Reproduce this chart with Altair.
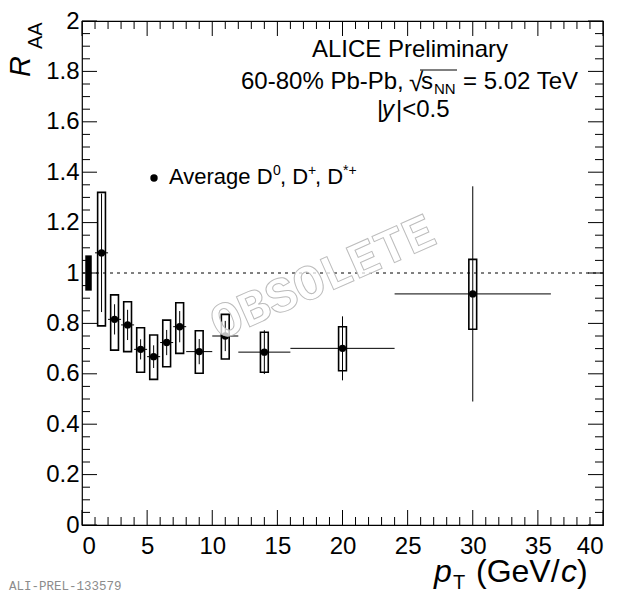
import altair as alt
import pandas as pd

# ---------------- data ----------------
pt = [1.5, 2.5, 3.5, 4.5, 5.5, 6.5, 7.5, 9, 11, 14, 20, 30]
pt_lo = [1, 2, 3, 4, 5, 6, 7, 8, 10, 12, 16, 24]
pt_hi = [2, 3, 4, 5, 6, 7, 8, 10, 12, 16, 24, 36]
raa = [1.08, 0.816, 0.794, 0.697, 0.668, 0.724, 0.787, 0.688, 0.75, 0.686, 0.701, 0.917]
stat = [0.235, 0.06, 0.06, 0.04, 0.045, 0.05, 0.062, 0.05, 0.06, 0.087, 0.127, 0.427]
sys_top = [1.32, 0.913, 0.886, 0.783, 0.754, 0.813, 0.882, 0.771, 0.836, 0.765, 0.787, 1.054]
sys_bottom = [0.79, 0.694, 0.688, 0.606, 0.578, 0.628, 0.681, 0.602, 0.659, 0.606, 0.612, 0.777]
norm_value = [1.0]
norm_unc = [0.07]
ref_line = [1.0]

x_major = [0, 5, 10, 15, 20, 25, 30, 35, 40]
x_minor = [1, 2, 3, 4, 6, 7, 8, 9, 11, 12, 13, 14, 16, 17, 18, 19, 21, 22, 23, 24,
           26, 27, 28, 29, 31, 32, 33, 34, 36, 37, 38, 39]
y_major = [0, 0.2, 0.4, 0.6, 0.8, 1, 1.2, 1.4, 1.6, 1.8, 2]
y_minor = [0.05, 0.1, 0.15, 0.25, 0.3, 0.35, 0.45, 0.5, 0.55, 0.65, 0.7, 0.75,
           0.85, 0.9, 0.95, 1.05, 1.1, 1.15, 1.25, 1.3, 1.35, 1.45, 1.5, 1.55,
           1.65, 1.7, 1.75, 1.85, 1.9, 1.95]

# ---------------- layout ----------------
W, H = 521, 504
OX, OY = 82, 21          # page position of plot origin
MAJ, MIN = 15, 8         # tick lengths
FONT = "Liberation Sans"
BOX_HALF = 0.3           # half width of systematic boxes (GeV/c)

df = pd.DataFrame({"pt": pt, "lo": pt_lo, "hi": pt_hi, "raa": raa, "stat": stat,
                   "sys_top": sys_top, "sys_bottom": sys_bottom})

xs = alt.Scale(domain=[0, 40], nice=False, zero=False)
ys = alt.Scale(domain=[0, 2], nice=False, zero=False)
xax = alt.Axis(values=x_major, format="~g", ticks=False, domain=False, grid=False,
               labelFontSize=24, labelFont=FONT, labelColor="black", labelPadding=9,
               title=None)
yax = alt.Axis(values=y_major, format="~g", ticks=False, domain=False, grid=False,
               labelFontSize=24, labelFont=FONT, labelColor="black", labelPadding=3,
               title=None)


def X(f):
    return alt.X(f, type="quantitative", scale=xs, axis=xax)


def Y(f):
    return alt.Y(f, type="quantitative", scale=ys, axis=yax)


base = alt.Chart(df)

dashed = alt.Chart(pd.DataFrame({"v": ref_line})).mark_rule(
    color="black", strokeWidth=1, strokeDash=[3, 4]).encode(
    y=Y("v"), x=alt.value(0), x2=alt.value(W))

norm = alt.Chart(pd.DataFrame({"v": norm_value, "u": norm_unc})).transform_calculate(
    lo="datum.v - datum.u", hi="datum.v + datum.u", x0="0.25", x1="0.75").mark_rect(
    color="black").encode(x=X("x0"), x2="x1:Q", y=Y("lo"), y2="hi:Q")

binlines = base.mark_rule(color="black", strokeWidth=1).encode(
    x=X("lo"), x2="hi:Q", y=Y("raa"))

statlines = base.transform_calculate(
    s_lo="datum.raa - datum.stat", s_hi="datum.raa + datum.stat").mark_rule(
    color="black", strokeWidth=1).encode(x=X("pt"), y=Y("s_lo"), y2="s_hi:Q")

boxes = base.transform_calculate(
    bl=f"datum.pt - {BOX_HALF}", br=f"datum.pt + {BOX_HALF}").mark_rect(
    fillOpacity=0, stroke="black", strokeWidth=1.6).encode(
    x=X("bl"), x2="br:Q", y=Y("sys_bottom"), y2="sys_top:Q")

points = base.mark_circle(color="black", opacity=1, size=55).encode(
    x=X("pt"), y=Y("raa"))

# inward ticks on all four sides
xmaj = pd.DataFrame({"v": x_major})
xmin = pd.DataFrame({"v": x_minor})
ymaj = pd.DataFrame({"v": y_major})
ymin = pd.DataFrame({"v": y_minor})
tk = dict(color="black", strokeWidth=1)
ticks = [
    alt.Chart(xmaj).mark_rule(**tk).encode(x=X("v"), y=alt.value(H), y2=alt.value(H - MAJ)),
    alt.Chart(xmin).mark_rule(**tk).encode(x=X("v"), y=alt.value(H), y2=alt.value(H - MIN)),
    alt.Chart(xmaj).mark_rule(**tk).encode(x=X("v"), y=alt.value(0), y2=alt.value(MAJ)),
    alt.Chart(xmin).mark_rule(**tk).encode(x=X("v"), y=alt.value(0), y2=alt.value(MIN)),
    alt.Chart(ymaj).mark_rule(**tk).encode(y=Y("v"), x=alt.value(0), x2=alt.value(MAJ)),
    alt.Chart(ymin).mark_rule(**tk).encode(y=Y("v"), x=alt.value(0), x2=alt.value(MIN)),
    alt.Chart(ymaj).mark_rule(**tk).encode(y=Y("v"), x=alt.value(W), x2=alt.value(W - MAJ)),
    alt.Chart(ymin).mark_rule(**tk).encode(y=Y("v"), x=alt.value(W), x2=alt.value(W - MIN)),
]


def txt(s, px, py, size=24, style="normal", align="left", angle=0, font=FONT,
        color="black", weight="normal", baseline="alphabetic"):
    return alt.Chart(pd.DataFrame({"t": [s]})).mark_text(
        fontSize=size, fontStyle=style, align=align, angle=angle, font=font,
        color=color, fontWeight=weight, baseline=baseline).encode(
        text="t:N", x=alt.value(px - OX), y=alt.value(py - OY))


watermark = alt.Chart(pd.DataFrame({"t": ["OBSOLETE"]})).mark_text(
    font="Liberation Mono", fontWeight="bold", fontSize=50, angle=336,
    align="center", baseline="middle", fill="white", fillOpacity=0.75,
    stroke="#bcbcbc", strokeWidth=1).encode(
    text="t:N", x=alt.value(323 - OX), y=alt.value(278 - OY))

overline = alt.Chart(pd.DataFrame({"a": [0]})).mark_rule(color="black", strokeWidth=1).encode(
    x=alt.value(420 - OX), x2=alt.value(457 - OX), y=alt.value(70 - OY))

texts = [
    txt("ALICE Preliminary", 410, 57, align="center"),
    txt("60-80% Pb-Pb,", 241, 89),
    txt("\u221a", 409, 91, size=26),
    txt("s", 421, 89),
    txt("NN", 434, 94, size=15),
    txt("= 5.02 TeV", 463, 89),
    txt("|", 377, 117),
    txt("y", 382, 117, style="italic"),
    txt("|<0.5", 396, 117),
    # legend
    txt("Average D", 169, 184, size=22),
    txt("0", 273, 175, size=14),
    txt(", D", 280, 184, size=22),
    txt("+", 308, 175, size=14),
    txt(", D", 315, 184, size=22),
    txt("*+", 343, 175, size=14),
    # axis titles
    txt("R", 30, 77, size=29, style="italic", angle=270),
    txt("AA", 42, 49, size=20, angle=270),
    txt("p", 434, 582, size=32, style="italic"),
    txt("T", 453, 589, size=20),
    txt("(GeV/", 476, 582, size=32),
    txt("c", 561, 582, size=32, style="italic"),
    txt(")", 577, 582, size=32),
    txt("ALI-PREL-133579", 9, 590, size=12.5, font="Liberation Mono", color="#8c8c8c"),
]

legend_dot = alt.Chart(pd.DataFrame({"a": [0]})).mark_circle(
    color="black", opacity=1, size=55).encode(x=alt.value(154 - OX), y=alt.value(178 - OY))

chart = alt.layer(
    dashed, norm, binlines, statlines, boxes, points, *ticks, watermark,
    overline, legend_dot, *texts
).properties(
    width=W, height=H,
    autosize=alt.AutoSizeParams(type="none"),
    padding={"left": OX - 8, "top": OY - 8, "right": 8, "bottom": 67},
    background="white",
).configure_view(stroke="black", strokeWidth=1.2)

chart.save("out.html", embed_options={"renderer": "svg", "actions": False})
